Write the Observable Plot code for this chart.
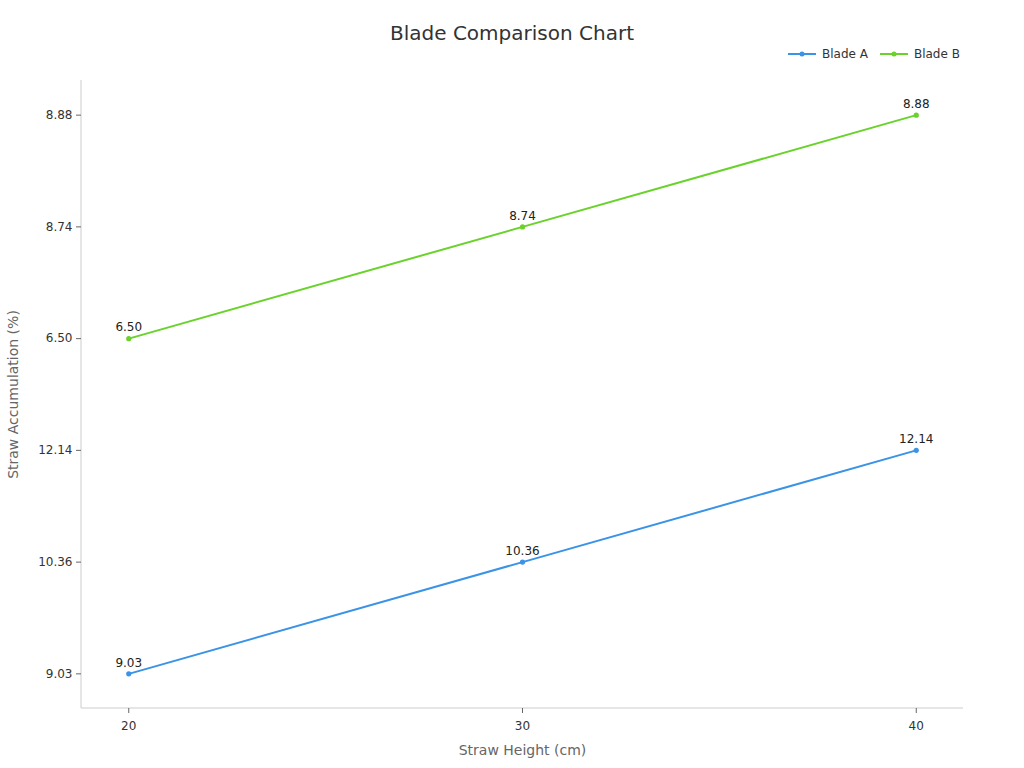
<!DOCTYPE html>
<html>
<head>
<meta charset="utf-8">
<script src="https://cdn.jsdelivr.net/npm/d3@7"></script>
<script src="https://cdn.jsdelivr.net/npm/@observablehq/plot@0.6"></script>
<style>
  html, body { margin: 0; padding: 0; background: #fff; }
  body { width: 1024px; height: 768px; position: relative; font-family: "DejaVu Sans", sans-serif; }
  #header { position: relative; height: 70px; }
  #title { position: absolute; left: 0; width: 1024px; top: 21px; text-align: center; font-size: 20px; color: #333; }
  #legend { position: absolute; left: 788px; top: 47px; display: flex; gap: 12px; font-size: 12px; color: #333; }
  .item { display: flex; align-items: center; }
  .item svg { margin-right: 6px; }
</style>
</head>
<body>
<div id="header">
  <div id="title"></div>
  <div id="legend"></div>
</div>
<div id="chart"></div>
<script>
const titleText = "Blade Comparison Chart";
const xLabel = "Straw Height (cm)";
const yLabel = "Straw Accumulation (%)";
const xValues = [20, 30, 40];
const bladeA = ["9.03", "10.36", "12.14"];
const bladeB = ["6.50", "8.74", "8.88"];
const yTicks = ["9.03", "10.36", "12.14", "6.50", "8.74", "8.88"];
const seriesNames = ["Blade A", "Blade B"];
const seriesColors = ["#3a93e6", "#69d22b"];

const seriesValues = [bladeA, bladeB];
const data = seriesNames.flatMap((s, i) =>
  xValues.map((x, j) => ({series: s, x, y: seriesValues[i][j]})));

document.getElementById("title").textContent = titleText;
const legend = document.getElementById("legend");
seriesNames.forEach((s, i) => {
  const item = document.createElement("div");
  item.className = "item";
  item.innerHTML = `<svg width="28" height="10"><line x1="0" x2="28" y1="5" y2="5" stroke="${seriesColors[i]}" stroke-width="2"/><circle cx="14" cy="5" r="2.5" fill="${seriesColors[i]}"/></svg><span>${s}</span>`;
  legend.appendChild(item);
});

const chart = Plot.plot({
  width: 1024,
  height: 698,
  marginTop: 10,
  marginBottom: 60,
  marginLeft: 81,
  marginRight: 61,
  style: {fontFamily: "DejaVu Sans, sans-serif", fontSize: "12px", color: "#333", background: "#fff"},
  x: {type: "linear", domain: [18.8, 41.2]},
  y: {type: "point", domain: yTicks, reverse: true, padding: 0.31, round: false},
  color: {domain: seriesNames, range: seriesColors},
  marks: [
    Plot.axisX({ticks: xValues, tickFormat: d => String(d), tickSize: 5, tickPadding: 8, stroke: "#666", fill: "#333", fontSize: 12, label: null}),
    Plot.axisY({tickSize: 5, tickPadding: 4, stroke: "#666", fill: "#333", fontSize: 12, label: null}),
    Plot.text([xLabel], {frameAnchor: "bottom", lineAnchor: "middle", textAnchor: "middle", dy: 42, fontSize: 14, fill: "#666"}),
    Plot.text([yLabel], {frameAnchor: "left", lineAnchor: "middle", textAnchor: "middle", rotate: -90, dx: -68, fontSize: 14, fill: "#666"}),
    Plot.line(data, {x: "x", y: "y", z: "series", stroke: "series", strokeWidth: 2}),
    Plot.dot(data, {x: "x", y: "y", fill: "series", r: 2.6}),
    Plot.text(data, {x: "x", y: "y", text: "y", dy: -11, fill: "#222", fontSize: 12})
  ]
});

// axis lines along left and bottom edges using the chart's scales
const sx = chart.scale("x"), sy = chart.scale("y");
const svg = d3.select(chart.tagName === "svg" ? chart : chart.querySelector("svg"));
const [x0, x1] = sx.range;
const yr = sy.range;
const yTop = Math.min(...yr), yBot = Math.max(...yr);
svg.insert("line", ":first-child").attr("x1", x0).attr("x2", x0).attr("y1", yTop).attr("y2", yBot).attr("stroke", "#ccc");
svg.insert("line", ":first-child").attr("x1", x0).attr("x2", x1).attr("y1", yBot).attr("y2", yBot).attr("stroke", "#ccc");

document.getElementById("chart").appendChild(chart);
</script>
</body>
</html>
